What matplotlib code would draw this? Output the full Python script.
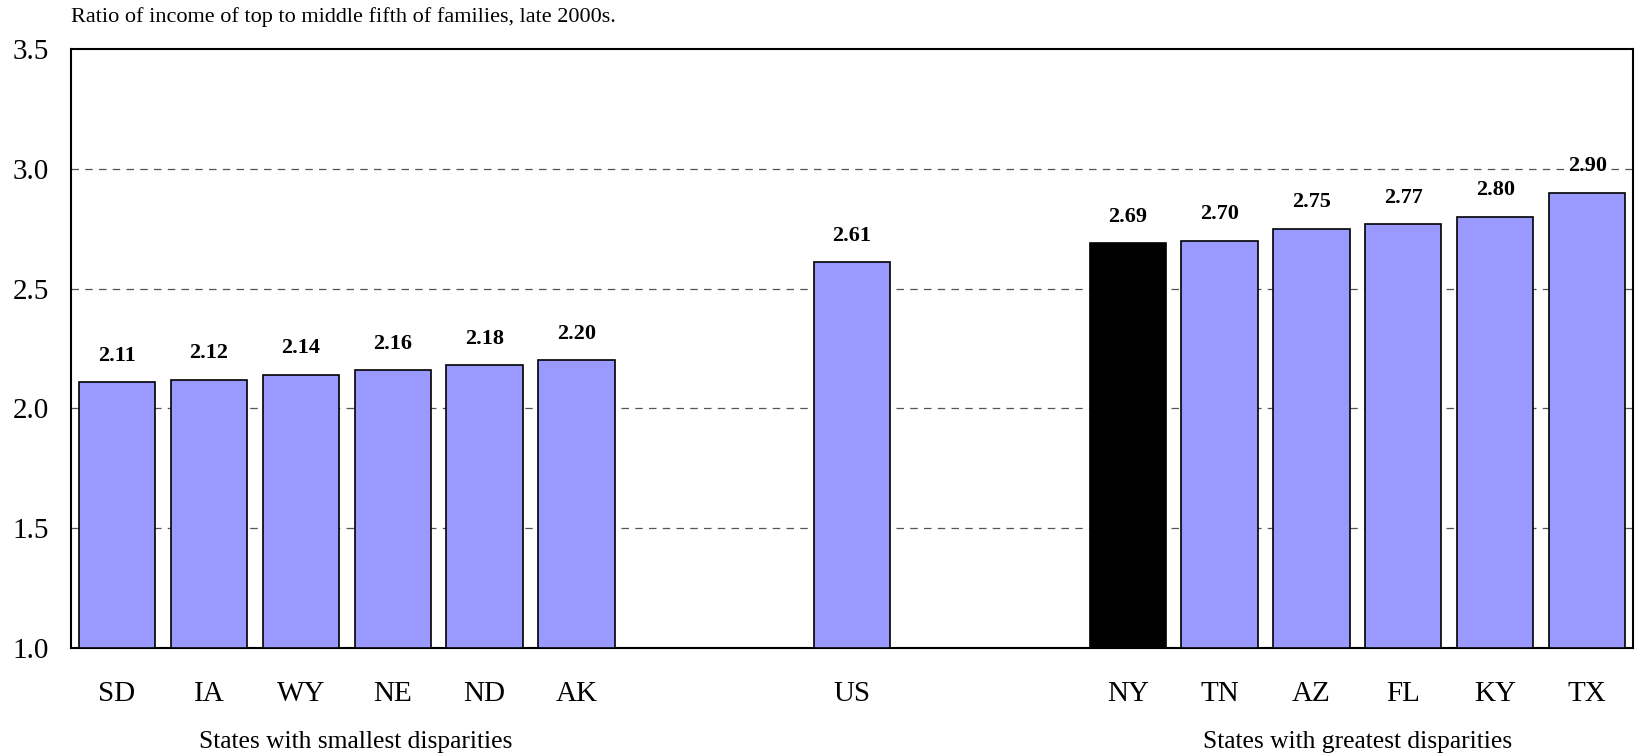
import matplotlib
matplotlib.use("Agg")
import matplotlib.pyplot as plt
import numpy as np

plt.rcParams["font.family"] = ["Liberation Serif", "DejaVu Serif"]

# 17 slots; empty labels are spacer slots between the groups
states = ["SD", "IA", "WY", "NE", "ND", "AK", "", "", "US", "", "", "NY", "TN", "AZ", "FL", "KY", "TX"]
ratios = [2.11, 2.12, 2.14, 2.16, 2.18, 2.20, None, None, 2.61, None, None, 2.69, 2.70, 2.75, 2.77, 2.80, 2.90]
highlight = "NY"
title = "Ratio of income of top to middle fifth of families, late 2000s."
group_labels = [("States with smallest disparities", 2.6), ("States with greatest disparities", 13.5)]

fig = plt.figure(figsize=(16.37, 7.53), dpi=100)
ax = fig.add_axes([0.0434, 0.1394, 0.9542, 0.7956])

x = np.arange(len(states))
for xi, s, v in zip(x, states, ratios):
    if v is None:
        continue
    col = "black" if s == highlight else "#9999FF"
    ax.bar(xi, v - 1.0, bottom=1.0, width=0.83, color=col, edgecolor="black", linewidth=1.2, zorder=3)
    ax.text(xi, v + 0.11, f"{v:.2f}", ha="center", va="center", fontsize=16, fontweight="bold", zorder=4)

ax.set_xlim(-0.5, len(states) - 0.5)
ax.set_ylim(1.0, 3.5)
ax.set_yticks([1.0, 1.5, 2.0, 2.5, 3.0, 3.5])
ax.set_yticklabels([f"{t:.1f}" for t in [1.0, 1.5, 2.0, 2.5, 3.0, 3.5]], fontsize=21)
ax.set_xticks(x)
ax.set_xticklabels(states, fontsize=21)
ax.tick_params(axis="both", length=0)
ax.tick_params(axis="x", pad=24)
ax.tick_params(axis="y", pad=16)

for g in [1.5, 2.0, 2.5, 3.0]:
    ax.axhline(g, color="#555555", linestyle=(0, (6, 5)), linewidth=0.9, zorder=1)

for sp in ax.spines.values():
    sp.set_linewidth(1.5)

for lbl, xc in group_labels:
    ax.text(xc, -0.157, lbl, transform=ax.get_xaxis_transform(), ha="center", va="center", fontsize=18.4)

fig.text(71 / 1637, 1 - 17 / 753, title, ha="left", va="center", fontsize=16)

fig.savefig("out.png", dpi=100)
